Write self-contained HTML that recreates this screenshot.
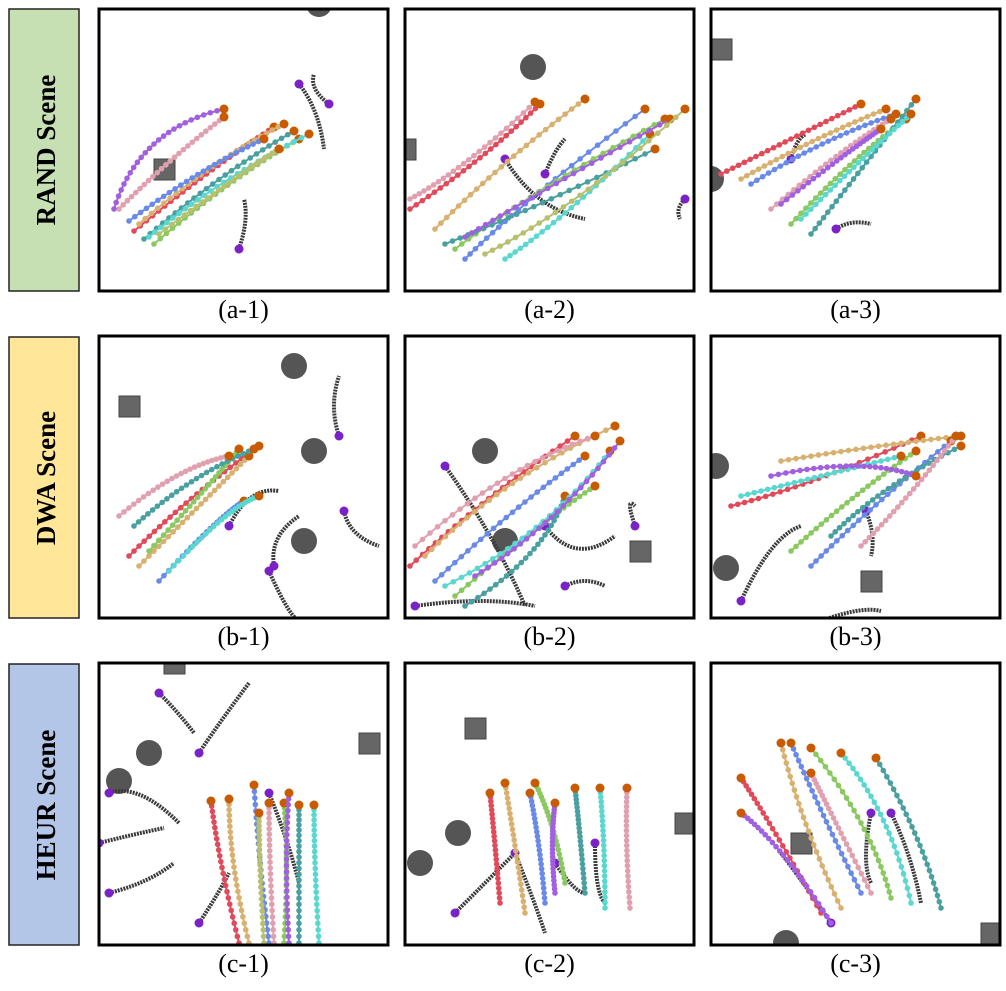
<!DOCTYPE html>
<html><head><meta charset="utf-8">
<style>
body{margin:0;background:#fff;width:1006px;height:991px;overflow:hidden;font-family:"Liberation Serif",serif;}
svg{position:absolute;left:0;top:0}
</style></head><body>
<svg id="fig" width="1006" height="991">
<rect x="9" y="9" width="70" height="282" fill="#c6e0b4" stroke="#222" stroke-width="1.5"/>
<rect x="9" y="337" width="70" height="281" fill="#ffe699" stroke="#222" stroke-width="1.5"/>
<rect x="9" y="664" width="70" height="281" fill="#b4c6e7" stroke="#222" stroke-width="1.5"/>
<text transform="translate(55,150) rotate(-90)" text-anchor="middle" font-weight="bold" font-size="27" font-family="Liberation Serif">RAND Scene</text>
<text transform="translate(55,478) rotate(-90)" text-anchor="middle" font-weight="bold" font-size="27" font-family="Liberation Serif">DWA Scene</text>
<text transform="translate(55,805) rotate(-90)" text-anchor="middle" font-weight="bold" font-size="27" font-family="Liberation Serif">HEUR Scene</text>
<g id="panels"></g>
</svg>
<script>
const colX=[99,405,711], rowY=[9,336,663], PW=289, PH=282;
const captions=["(a-1)","(a-2)","(a-3)","(b-1)","(b-2)","(b-3)","(c-1)","(c-2)","(c-3)"];
const colors=["#e04a5a","#d8b070","#6a8ae8","#8ac860","#4aa0a0","#5ad8d0","#e0a0b0","#a060e0","#b8c070","#d06890"];
const colored=[
 [[[35,222],[110,160],[175,118]],[[40,215],[115,150],[185,115]],[[30,212],[100,160],[165,130]],[[55,235],[130,170],[200,130]],[[45,230],[120,165],[195,122]],[[50,228],[120,170],[210,125]],[[20,200],[70,150],[125,108]],[[15,200],[40,120],[125,100]],[[60,225],[140,165],[180,140]]],
 [[[5,200],[80,150],[135,95]],[[30,220],[100,150],[180,90]],[[60,250],[120,190],[240,100]],[[50,240],[130,180],[260,110]],[[40,235],[130,200],[250,140]],[[100,250],[160,210],[245,125]],[[5,190],[60,160],[130,93]],[[60,228],[140,180],[265,110]],[[80,245],[170,200],[280,100]]],
 [[[10,165],[80,130],[150,95]],[[30,170],[100,130],[175,100]],[[40,175],[110,130],[185,105]],[[80,215],[140,150],[195,110]],[[100,225],[150,160],[205,90]],[[90,210],[150,150],[200,105]],[[60,200],[130,140],[180,110]],[[70,195],[140,140],[170,120]]],
 [[[30,220],[90,160],[160,110]],[[40,230],[100,170],[150,120]],[[60,245],[120,180],[145,165]],[[50,215],[110,150],[140,113]],[[35,190],[90,140],[155,113]],[[70,235],[130,170],[160,160]],[[20,180],[80,130],[130,120]]],
 [[[5,230],[80,160],[170,100]],[[20,220],[100,140],[210,90]],[[30,245],[110,170],[180,120]],[[50,260],[130,190],[190,150]],[[60,270],[140,220],[160,160]],[[40,250],[140,200],[205,115]],[[10,210],[100,130],[190,100]],[[70,240],[150,190],[215,105]]],
 [[[20,170],[100,150],[210,100]],[[70,125],[160,110],[250,100]],[[100,230],[160,170],[240,105]],[[80,215],[140,160],[205,115]],[[120,200],[170,150],[250,110]],[[30,160],[110,140],[190,120]],[[150,210],[200,160],[245,100]],[[60,140],[150,120],[205,140]]],
 [[[140,280],[120,200],[112,138]],[[150,280],[130,200],[130,136]],[[170,280],[160,200],[155,122]],[[185,280],[190,200],[185,140]],[[200,280],[200,200],[200,142]],[[220,280],[215,200],[215,142]],[[175,280],[170,200],[170,140]],[[190,280],[185,200],[190,130]],[[165,280],[160,200],[160,150]]],
 [[[95,240],[90,180],[85,130]],[[120,250],[110,180],[100,120]],[[140,240],[135,180],[125,130]],[[160,220],[150,160],[130,120]],[[180,230],[175,170],[170,125]],[[200,245],[200,180],[195,125]],[[225,245],[220,180],[222,125]],[[150,230],[145,180],[150,140]]],
 [[[110,250],[60,160],[30,115]],[[130,245],[90,160],[70,80]],[[150,230],[110,150],[80,80]],[[180,235],[160,160],[100,85]],[[230,245],[210,170],[165,95]],[[200,240],[180,150],[130,90]],[[160,230],[120,150],[100,110]],[[120,260],[70,180],[30,150]]]
];
const blacks=[
 [[[200,75],[220,100],[225,140]],[[140,240],[150,210],[145,190]],[[230,95],[210,80],[215,65]]],
 [[[100,150],[130,200],[180,210]],[[140,165],[150,140],[160,130]],[[280,190],[270,200],[275,210]]],
 [[[80,150],[85,130],[95,125]],[[125,220],[140,210],[160,215]]],
 [[[175,230],[170,200],[200,180]],[[240,100],[230,70],[240,40]],[[245,175],[250,200],[280,210]],[[170,235],[190,280],[200,285]],[[130,190],[150,150],[180,155]]],
 [[[40,130],[90,200],[120,270]],[[140,190],[170,230],[210,200]],[[160,250],[180,240],[200,250]],[[230,190],[220,160],[230,170]],[[10,270],[80,260],[130,270]]],
 [[[30,265],[60,200],[90,190]],[[155,175],[165,200],[160,220]],[[110,285],[150,270],[170,275]]],
 [[[60,30],[80,50],[95,70]],[[100,90],[120,60],[150,20]],[[10,130],[40,120],[80,160]],[[10,230],[50,220],[75,200]],[[0,180],[40,170],[65,165]],[[170,130],[190,180],[200,220]],[[100,260],[120,230],[130,210]]],
 [[[50,250],[90,210],[110,190]],[[110,190],[130,240],[140,270]],[[150,200],[170,230],[180,230]],[[190,180],[190,230],[200,240]]],
 [[[120,260],[100,230],[70,190]],[[180,150],[200,190],[210,240]],[[160,150],[150,200],[160,220]]]
];
const obstacles=[
 [[65,160,1],[220,-5,0]],[[128,58,0],[0,140,1]],[[10,40,1],[0,170,0]],
 [[30,70,1],[195,30,0],[215,115,0],[205,205,0]],[[80,115,0],[100,205,0],[235,215,1]],[[5,130,0],[15,232,0],[160,245,1]],
 [[75,0,1],[50,90,0],[20,118,0],[270,80,1]],[[70,65,1],[53,170,0],[15,200,0],[280,160,1]],[[90,180,1],[75,280,0],[280,270,1]]
];
function q(p,t){const[a,b,c]=p;return[(1-t)*(1-t)*a[0]+2*(1-t)*t*b[0]+t*t*c[0],(1-t)*(1-t)*a[1]+2*(1-t)*t*b[1]+t*t*c[1]];}
const NS="http://www.w3.org/2000/svg";
const root=document.getElementById('panels');
function mk(tag,attrs,parent){const e=document.createElementNS(NS,tag);for(const k in attrs)e.setAttribute(k,attrs[k]);parent.appendChild(e);return e;}
for(let i=0;i<9;i++){
 const r=Math.floor(i/3),c=i%3;
 const x0=colX[c],y0=rowY[r],w=PW,h=PH;
 const g=mk('g',{transform:`translate(${x0},${y0})`},root);
 
 
 const cid='clip'+i;
 const cp=mk('clipPath',{id:cid},g);mk('rect',{x:0,y:0,width:w,height:h},cp);
 const inner=mk('g',{'clip-path':`url(#${cid})`},g);
 obstacles[i].forEach(o=>{
  let e;
  if(o[2]==0){e=mk('circle',{cx:o[0],cy:o[1],r:13,fill:'#555'},inner);}
  else {e=mk('rect',{x:o[0]-10,y:o[1]-10,width:21,height:21,fill:'#666',stroke:'#444'},inner);}
  
  
 });
 blacks[i].forEach(p=>{
  let d='';for(let t=0;t<=20;t++){const pt=q(p,t/20);d+=(t?'L':'M')+pt[0]+','+pt[1];}
  const e=mk('path',{d:d,fill:'none',stroke:'#3a3a3a',"stroke-width":4,"stroke-dasharray":"2 1"},inner);
  
  
  const s=q(p,0);const m=mk('circle',{cx:s[0],cy:s[1],r:4.5,fill:'#7a22c8'},inner);
  
  
 });
 colored[i].forEach((p,k)=>{
  const col=colors[k%colors.length];
  let d='';for(let t=0;t<=20;t++){const pt=q(p,t/20);d+=(t?'L':'M')+pt[0]+','+pt[1];}
  const e=mk('path',{d:d,fill:'none',stroke:col,"stroke-width":2},inner);
  
  
  for(let t=0;t<=24;t++){const pt=q(p,t/24);mk('circle',{cx:pt[0],cy:pt[1],r:2.8,fill:col},inner);}
  const en=q(p,1);const m=mk('circle',{cx:en[0],cy:en[1],r:4.5,fill:'#c85a00'},inner);
  
  
 });
 const b=mk('rect',{x:0,y:0,width:w,height:h,fill:'none',stroke:'#000','stroke-width':3},g);
 
 
 const t=mk('text',{x:x0+w/2,y:y0+h+27,'text-anchor':'middle','font-size':'26','font-family':'Liberation Serif'},root);
 t.textContent=captions[i];
 
 
}
</script>
</body></html>
